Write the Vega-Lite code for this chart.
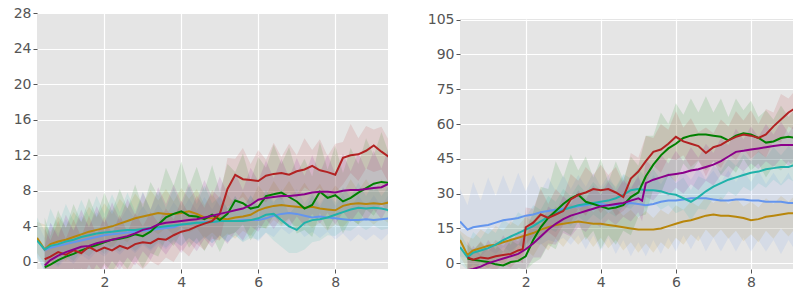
{
"$schema": "https://vega.github.io/schema/vega-lite/v6.json",
"padding": {"left": 13, "top": 6, "right": 0, "bottom": 0},
"background": "white",
"config": {
 "view": {"fill": "#E5E5E5", "stroke": null},
 "concat": {"spacing": 39}
},
"datasets": {
"L": [
{"s":"b","x":0.25,"y":2.6,"lo":0.8,"hi":4.5},{"s":"b","x":0.45,"y":1.3,"lo":-1.1,"hi":2.7},{"s":"b","x":0.6,"y":1.6,"lo":0.0,"hi":4.4},{"s":"b","x":0.8,"y":1.8,"lo":-0.6,"hi":3.2},{"s":"b","x":1.0,"y":2.0,"lo":0.4,"hi":4.8},{"s":"b","x":1.2,"y":2.2,"lo":-0.2,"hi":3.6},{"s":"b","x":1.4,"y":2.4,"lo":0.8,"hi":5.2},{"s":"b","x":1.6,"y":2.6,"lo":0.2,"hi":4.0},{"s":"b","x":1.8,"y":2.8,"lo":1.2,"hi":5.6},{"s":"b","x":2.0,"y":3.0,"lo":0.6,"hi":4.4},{"s":"b","x":2.2,"y":3.1,"lo":1.5,"hi":5.9},{"s":"b","x":2.4,"y":3.2,"lo":0.8,"hi":4.6},{"s":"b","x":2.6,"y":3.3,"lo":1.7,"hi":6.1},{"s":"b","x":2.8,"y":3.4,"lo":1.0,"hi":4.8},{"s":"b","x":3.0,"y":3.5,"lo":1.9,"hi":6.3},{"s":"b","x":3.2,"y":3.6,"lo":1.2,"hi":5.0},{"s":"b","x":3.4,"y":3.7,"lo":2.1,"hi":6.5},{"s":"b","x":3.6,"y":3.8,"lo":1.4,"hi":5.2},{"s":"b","x":3.8,"y":3.9,"lo":2.3,"hi":6.7},{"s":"b","x":4.0,"y":4.2,"lo":1.8,"hi":5.6},{"s":"b","x":4.2,"y":4.3,"lo":2.7,"hi":7.1},{"s":"b","x":4.4,"y":4.4,"lo":2.0,"hi":5.8},{"s":"b","x":4.6,"y":4.5,"lo":2.9,"hi":7.3},{"s":"b","x":4.8,"y":4.5,"lo":2.1,"hi":5.9},{"s":"b","x":5.0,"y":4.6,"lo":3.0,"hi":7.4},{"s":"b","x":5.2,"y":4.6,"lo":2.2,"hi":6.0},{"s":"b","x":5.4,"y":4.6,"lo":3.0,"hi":7.4},{"s":"b","x":5.6,"y":4.7,"lo":2.3,"hi":6.1},{"s":"b","x":5.8,"y":4.7,"lo":3.1,"hi":7.5},{"s":"b","x":6.0,"y":4.7,"lo":2.3,"hi":6.1},{"s":"b","x":6.2,"y":4.9,"lo":3.3,"hi":7.7},{"s":"b","x":6.4,"y":5.2,"lo":2.8,"hi":6.6},{"s":"b","x":6.6,"y":5.4,"lo":3.8,"hi":8.2},{"s":"b","x":6.8,"y":5.5,"lo":3.1,"hi":6.9},{"s":"b","x":7.0,"y":5.4,"lo":3.8,"hi":8.2},{"s":"b","x":7.2,"y":5.2,"lo":2.8,"hi":6.6},{"s":"b","x":7.4,"y":5.0,"lo":3.4,"hi":7.8},{"s":"b","x":7.6,"y":5.1,"lo":2.7,"hi":6.5},{"s":"b","x":7.8,"y":5.0,"lo":3.4,"hi":7.8},{"s":"b","x":8.0,"y":4.9,"lo":2.5,"hi":6.3},{"s":"b","x":8.2,"y":4.8,"lo":3.2,"hi":7.6},{"s":"b","x":8.4,"y":4.7,"lo":2.3,"hi":6.1},{"s":"b","x":8.6,"y":4.7,"lo":3.1,"hi":7.5},{"s":"b","x":8.8,"y":4.8,"lo":2.4,"hi":6.2},{"s":"b","x":9.0,"y":4.7,"lo":3.1,"hi":7.5},{"s":"b","x":9.2,"y":4.8,"lo":2.4,"hi":6.2},{"s":"b","x":9.4,"y":4.9,"lo":3.3,"hi":7.7},
{"s":"o","x":0.25,"y":2.7,"lo":1.0,"hi":4.5},{"s":"o","x":0.45,"y":1.4,"lo":-0.2,"hi":4.2},{"s":"o","x":0.6,"y":2.0,"lo":-0.4,"hi":3.4},{"s":"o","x":0.8,"y":2.3,"lo":0.7,"hi":5.1},{"s":"o","x":1.0,"y":2.5,"lo":0.1,"hi":3.9},{"s":"o","x":1.2,"y":2.8,"lo":1.2,"hi":5.6},{"s":"o","x":1.4,"y":3.1,"lo":0.7,"hi":4.5},{"s":"o","x":1.6,"y":3.4,"lo":1.8,"hi":6.2},{"s":"o","x":1.8,"y":3.6,"lo":1.2,"hi":5.0},{"s":"o","x":2.0,"y":3.8,"lo":2.2,"hi":6.6},{"s":"o","x":2.2,"y":4.0,"lo":1.6,"hi":5.4},{"s":"o","x":2.4,"y":4.3,"lo":2.7,"hi":7.1},{"s":"o","x":2.6,"y":4.6,"lo":2.2,"hi":6.0},{"s":"o","x":2.8,"y":4.9,"lo":3.3,"hi":7.7},{"s":"o","x":3.0,"y":5.1,"lo":2.7,"hi":6.5},{"s":"o","x":3.2,"y":5.3,"lo":3.7,"hi":8.1},{"s":"o","x":3.4,"y":5.5,"lo":3.1,"hi":6.9},{"s":"o","x":3.6,"y":5.4,"lo":3.8,"hi":8.2},{"s":"o","x":3.8,"y":5.4,"lo":3.0,"hi":6.8},{"s":"o","x":4.0,"y":5.5,"lo":3.9,"hi":8.3},{"s":"o","x":4.2,"y":5.7,"lo":3.3,"hi":7.1},{"s":"o","x":4.4,"y":5.4,"lo":3.8,"hi":8.2},{"s":"o","x":4.6,"y":5.0,"lo":2.6,"hi":6.4},{"s":"o","x":4.8,"y":4.9,"lo":3.3,"hi":7.7},{"s":"o","x":5.0,"y":4.9,"lo":2.5,"hi":6.3},{"s":"o","x":5.2,"y":4.8,"lo":3.2,"hi":7.6},{"s":"o","x":5.4,"y":5.0,"lo":2.6,"hi":6.4},{"s":"o","x":5.6,"y":5.1,"lo":3.5,"hi":7.9},{"s":"o","x":5.8,"y":5.3,"lo":2.9,"hi":6.7},{"s":"o","x":6.0,"y":5.8,"lo":4.2,"hi":8.6},{"s":"o","x":6.2,"y":6.1,"lo":3.7,"hi":7.5},{"s":"o","x":6.4,"y":6.3,"lo":4.7,"hi":9.1},{"s":"o","x":6.6,"y":6.4,"lo":4.0,"hi":7.8},{"s":"o","x":6.8,"y":6.3,"lo":4.7,"hi":9.1},{"s":"o","x":7.0,"y":6.2,"lo":3.8,"hi":7.6},{"s":"o","x":7.2,"y":6.1,"lo":4.5,"hi":8.9},{"s":"o","x":7.4,"y":6.2,"lo":3.8,"hi":7.6},{"s":"o","x":7.6,"y":6.0,"lo":4.4,"hi":8.8},{"s":"o","x":7.8,"y":5.9,"lo":3.5,"hi":7.3},{"s":"o","x":8.0,"y":5.8,"lo":4.2,"hi":8.6},{"s":"o","x":8.2,"y":6.3,"lo":3.9,"hi":7.7},{"s":"o","x":8.4,"y":6.5,"lo":4.9,"hi":9.3},{"s":"o","x":8.6,"y":6.6,"lo":4.2,"hi":8.0},{"s":"o","x":8.8,"y":6.5,"lo":4.9,"hi":9.3},{"s":"o","x":9.0,"y":6.6,"lo":4.2,"hi":8.0},{"s":"o","x":9.2,"y":6.5,"lo":4.9,"hi":9.3},{"s":"o","x":9.4,"y":6.7,"lo":4.3,"hi":8.1},
{"s":"c","x":0.25,"y":2.4,"lo":0.5,"hi":5.0},{"s":"c","x":0.45,"y":1.4,"lo":-1.0,"hi":3.5},{"s":"c","x":0.6,"y":1.8,"lo":0.2,"hi":6.0},{"s":"c","x":0.8,"y":2.0,"lo":-0.4,"hi":4.1},{"s":"c","x":1.0,"y":2.3,"lo":0.7,"hi":6.5},{"s":"c","x":1.2,"y":2.5,"lo":0.1,"hi":4.6},{"s":"c","x":1.4,"y":2.8,"lo":1.2,"hi":7.0},{"s":"c","x":1.6,"y":3.0,"lo":0.6,"hi":5.1},{"s":"c","x":1.8,"y":3.2,"lo":1.6,"hi":7.4},{"s":"c","x":2.0,"y":3.3,"lo":0.9,"hi":5.4},{"s":"c","x":2.2,"y":3.4,"lo":1.8,"hi":7.6},{"s":"c","x":2.4,"y":3.5,"lo":1.1,"hi":5.6},{"s":"c","x":2.6,"y":3.6,"lo":2.0,"hi":7.8},{"s":"c","x":2.8,"y":3.6,"lo":1.2,"hi":5.7},{"s":"c","x":3.0,"y":3.7,"lo":2.1,"hi":7.9},{"s":"c","x":3.2,"y":3.8,"lo":1.4,"hi":5.9},{"s":"c","x":3.4,"y":3.9,"lo":2.3,"hi":8.1},{"s":"c","x":3.6,"y":4.0,"lo":1.6,"hi":6.1},{"s":"c","x":3.8,"y":4.1,"lo":2.5,"hi":8.3},{"s":"c","x":4.0,"y":4.2,"lo":1.8,"hi":6.3},{"s":"c","x":4.2,"y":4.3,"lo":2.7,"hi":8.5},{"s":"c","x":4.4,"y":4.4,"lo":2.0,"hi":6.5},{"s":"c","x":4.6,"y":4.4,"lo":2.8,"hi":8.6},{"s":"c","x":4.8,"y":4.5,"lo":2.1,"hi":6.6},{"s":"c","x":5.0,"y":4.6,"lo":3.0,"hi":7.4},{"s":"c","x":5.2,"y":4.6,"lo":2.2,"hi":6.0},{"s":"c","x":5.4,"y":4.6,"lo":3.0,"hi":7.4},{"s":"c","x":5.6,"y":4.6,"lo":2.2,"hi":6.0},{"s":"c","x":5.8,"y":4.7,"lo":2.7,"hi":7.5},{"s":"c","x":6.0,"y":4.9,"lo":2.5,"hi":6.3},{"s":"c","x":6.2,"y":5.3,"lo":3.3,"hi":8.1},{"s":"c","x":6.4,"y":5.4,"lo":2.4,"hi":6.8},{"s":"c","x":6.6,"y":4.7,"lo":1.7,"hi":7.5},{"s":"c","x":6.8,"y":4.0,"lo":1.0,"hi":5.4},{"s":"c","x":7.0,"y":3.6,"lo":1.0,"hi":6.4},{"s":"c","x":7.2,"y":4.4,"lo":1.4,"hi":5.8},{"s":"c","x":7.4,"y":4.7,"lo":2.2,"hi":7.5},{"s":"c","x":7.6,"y":4.8,"lo":2.4,"hi":6.2},{"s":"c","x":7.8,"y":5.0,"lo":3.0,"hi":7.8},{"s":"c","x":8.0,"y":5.3,"lo":2.9,"hi":6.7},{"s":"c","x":8.2,"y":5.6,"lo":3.6,"hi":8.4},{"s":"c","x":8.4,"y":5.9,"lo":3.5,"hi":7.3},{"s":"c","x":8.6,"y":6.1,"lo":4.1,"hi":8.9},{"s":"c","x":8.8,"y":6.0,"lo":3.6,"hi":7.4},{"s":"c","x":9.0,"y":6.1,"lo":4.1,"hi":8.9},{"s":"c","x":9.2,"y":6.0,"lo":3.6,"hi":7.4},{"s":"c","x":9.4,"y":5.8,"lo":3.8,"hi":8.6},
{"s":"g","x":0.45,"y":-0.6,"lo":-3.0,"hi":5.0},{"s":"g","x":0.6,"y":-0.3,"lo":-3.9,"hi":2.9},{"s":"g","x":0.8,"y":0.2,"lo":-2.2,"hi":5.8},{"s":"g","x":1.0,"y":0.6,"lo":-3.0,"hi":3.8},{"s":"g","x":1.2,"y":0.9,"lo":-1.5,"hi":6.5},{"s":"g","x":1.4,"y":1.3,"lo":-2.3,"hi":4.5},{"s":"g","x":1.6,"y":1.6,"lo":-0.8,"hi":7.2},{"s":"g","x":1.8,"y":1.9,"lo":-1.7,"hi":5.1},{"s":"g","x":2.0,"y":2.2,"lo":-0.2,"hi":7.8},{"s":"g","x":2.2,"y":2.5,"lo":-1.1,"hi":5.7},{"s":"g","x":2.4,"y":2.6,"lo":0.2,"hi":8.2},{"s":"g","x":2.6,"y":2.8,"lo":-0.8,"hi":6.0},{"s":"g","x":2.8,"y":3.1,"lo":0.7,"hi":8.7},{"s":"g","x":3.0,"y":2.9,"lo":-0.7,"hi":6.1},{"s":"g","x":3.2,"y":3.4,"lo":1.0,"hi":9.0},{"s":"g","x":3.4,"y":4.2,"lo":0.6,"hi":7.4},{"s":"g","x":3.6,"y":5.0,"lo":2.6,"hi":10.6},{"s":"g","x":3.8,"y":5.4,"lo":1.8,"hi":8.6},{"s":"g","x":4.0,"y":5.7,"lo":3.3,"hi":11.3},{"s":"g","x":4.2,"y":5.2,"lo":1.6,"hi":8.4},{"s":"g","x":4.4,"y":5.1,"lo":2.7,"hi":10.7},{"s":"g","x":4.6,"y":4.8,"lo":1.2,"hi":8.0},{"s":"g","x":4.8,"y":5.3,"lo":2.9,"hi":10.9},{"s":"g","x":5.0,"y":4.7,"lo":1.1,"hi":7.9},{"s":"g","x":5.2,"y":5.4,"lo":3.0,"hi":11.0},{"s":"g","x":5.4,"y":6.9,"lo":3.3,"hi":10.1},{"s":"g","x":5.6,"y":6.6,"lo":4.2,"hi":12.2},{"s":"g","x":5.8,"y":6.0,"lo":2.4,"hi":9.2},{"s":"g","x":6.0,"y":6.2,"lo":3.8,"hi":11.8},{"s":"g","x":6.2,"y":7.4,"lo":3.8,"hi":10.6},{"s":"g","x":6.4,"y":7.6,"lo":5.2,"hi":13.2},{"s":"g","x":6.6,"y":7.8,"lo":4.2,"hi":11.0},{"s":"g","x":6.8,"y":7.3,"lo":4.9,"hi":12.9},{"s":"g","x":7.0,"y":6.8,"lo":3.2,"hi":10.0},{"s":"g","x":7.2,"y":6.0,"lo":3.6,"hi":11.6},{"s":"g","x":7.4,"y":6.4,"lo":2.8,"hi":9.6},{"s":"g","x":7.6,"y":7.9,"lo":5.5,"hi":13.5},{"s":"g","x":7.8,"y":7.2,"lo":3.6,"hi":10.4},{"s":"g","x":8.0,"y":7.5,"lo":5.1,"hi":13.1},{"s":"g","x":8.2,"y":6.8,"lo":3.2,"hi":10.0},{"s":"g","x":8.4,"y":7.2,"lo":4.8,"hi":12.8},{"s":"g","x":8.6,"y":7.8,"lo":4.2,"hi":11.0},{"s":"g","x":8.8,"y":8.3,"lo":5.9,"hi":13.9},{"s":"g","x":9.0,"y":8.8,"lo":5.2,"hi":12.0},{"s":"g","x":9.2,"y":9.0,"lo":6.6,"hi":14.6},{"s":"g","x":9.4,"y":8.9,"lo":5.3,"hi":12.1},
{"s":"r","x":0.45,"y":0.3,"lo":-1.7,"hi":3.8},{"s":"r","x":0.6,"y":0.6,"lo":-2.4,"hi":2.4},{"s":"r","x":0.8,"y":1.1,"lo":-0.9,"hi":4.6},{"s":"r","x":1.0,"y":0.8,"lo":-2.2,"hi":2.6},{"s":"r","x":1.2,"y":1.3,"lo":-0.7,"hi":4.8},{"s":"r","x":1.4,"y":1.0,"lo":-2.0,"hi":2.8},{"s":"r","x":1.6,"y":1.7,"lo":-0.3,"hi":5.2},{"s":"r","x":1.8,"y":1.2,"lo":-1.8,"hi":3.0},{"s":"r","x":2.0,"y":1.6,"lo":-0.4,"hi":5.1},{"s":"r","x":2.2,"y":1.3,"lo":-1.7,"hi":3.1},{"s":"r","x":2.4,"y":1.8,"lo":-0.2,"hi":5.3},{"s":"r","x":2.6,"y":1.5,"lo":-1.5,"hi":3.3},{"s":"r","x":2.8,"y":2.0,"lo":0.0,"hi":5.5},{"s":"r","x":3.0,"y":2.2,"lo":-0.8,"hi":4.0},{"s":"r","x":3.2,"y":2.1,"lo":0.1,"hi":5.6},{"s":"r","x":3.4,"y":2.6,"lo":-0.4,"hi":4.4},{"s":"r","x":3.6,"y":2.5,"lo":0.5,"hi":6.0},{"s":"r","x":3.8,"y":3.0,"lo":0.0,"hi":4.8},{"s":"r","x":4.0,"y":3.4,"lo":1.4,"hi":6.9},{"s":"r","x":4.2,"y":3.6,"lo":0.6,"hi":5.4},{"s":"r","x":4.4,"y":4.0,"lo":2.0,"hi":7.5},{"s":"r","x":4.6,"y":4.3,"lo":1.3,"hi":6.1},{"s":"r","x":4.8,"y":4.6,"lo":2.6,"hi":8.1},{"s":"r","x":5.0,"y":5.4,"lo":2.4,"hi":7.2},{"s":"r","x":5.2,"y":8.2,"lo":6.2,"hi":11.7},{"s":"r","x":5.4,"y":9.8,"lo":6.8,"hi":11.6},{"s":"r","x":5.6,"y":9.3,"lo":7.3,"hi":12.8},{"s":"r","x":5.8,"y":9.2,"lo":6.2,"hi":11.0},{"s":"r","x":6.0,"y":9.1,"lo":7.1,"hi":12.6},{"s":"r","x":6.2,"y":9.7,"lo":6.7,"hi":11.5},{"s":"r","x":6.4,"y":9.9,"lo":7.9,"hi":13.4},{"s":"r","x":6.6,"y":10.0,"lo":7.0,"hi":11.8},{"s":"r","x":6.8,"y":9.8,"lo":7.8,"hi":13.3},{"s":"r","x":7.0,"y":10.2,"lo":7.2,"hi":12.0},{"s":"r","x":7.2,"y":10.4,"lo":8.4,"hi":13.9},{"s":"r","x":7.4,"y":10.8,"lo":7.8,"hi":12.6},{"s":"r","x":7.6,"y":10.3,"lo":8.3,"hi":13.8},{"s":"r","x":7.8,"y":10.1,"lo":7.1,"hi":11.9},{"s":"r","x":8.0,"y":9.8,"lo":7.8,"hi":13.3},{"s":"r","x":8.2,"y":11.7,"lo":8.7,"hi":13.5},{"s":"r","x":8.4,"y":12.0,"lo":10.0,"hi":15.5},{"s":"r","x":8.6,"y":12.1,"lo":9.1,"hi":13.9},{"s":"r","x":8.8,"y":12.5,"lo":10.5,"hi":15.3},{"s":"r","x":9.0,"y":13.1,"lo":10.1,"hi":14.9},{"s":"r","x":9.2,"y":12.4,"lo":10.4,"hi":15.2},{"s":"r","x":9.4,"y":11.8,"lo":8.8,"hi":13.6},
{"s":"p","x":0.45,"y":-0.4,"lo":-4.0,"hi":1.7},{"s":"p","x":0.6,"y":0.2,"lo":-2.2,"hi":4.4},{"s":"p","x":0.8,"y":0.7,"lo":-2.9,"hi":2.8},{"s":"p","x":1.0,"y":1.1,"lo":-1.3,"hi":5.3},{"s":"p","x":1.2,"y":1.4,"lo":-2.2,"hi":3.5},{"s":"p","x":1.4,"y":1.7,"lo":-0.7,"hi":5.9},{"s":"p","x":1.6,"y":1.8,"lo":-1.8,"hi":3.9},{"s":"p","x":1.8,"y":2.1,"lo":-0.3,"hi":6.3},{"s":"p","x":2.0,"y":2.3,"lo":-1.3,"hi":4.4},{"s":"p","x":2.2,"y":2.5,"lo":0.1,"hi":6.7},{"s":"p","x":2.4,"y":2.7,"lo":-0.9,"hi":4.8},{"s":"p","x":2.6,"y":2.9,"lo":0.5,"hi":7.1},{"s":"p","x":2.8,"y":3.2,"lo":-0.4,"hi":5.3},{"s":"p","x":3.0,"y":3.6,"lo":1.2,"hi":7.8},{"s":"p","x":3.2,"y":3.8,"lo":0.2,"hi":5.9},{"s":"p","x":3.4,"y":4.2,"lo":1.8,"hi":8.4},{"s":"p","x":3.6,"y":4.4,"lo":0.8,"hi":6.5},{"s":"p","x":3.8,"y":4.5,"lo":2.1,"hi":8.7},{"s":"p","x":4.0,"y":4.6,"lo":1.0,"hi":6.7},{"s":"p","x":4.2,"y":4.7,"lo":2.3,"hi":8.9},{"s":"p","x":4.4,"y":4.8,"lo":1.2,"hi":6.9},{"s":"p","x":4.6,"y":5.0,"lo":2.6,"hi":9.2},{"s":"p","x":4.8,"y":5.2,"lo":1.6,"hi":7.3},{"s":"p","x":5.0,"y":5.4,"lo":3.0,"hi":9.6},{"s":"p","x":5.2,"y":5.6,"lo":2.0,"hi":7.7},{"s":"p","x":5.4,"y":5.8,"lo":3.4,"hi":10.0},{"s":"p","x":5.6,"y":6.0,"lo":2.4,"hi":8.1},{"s":"p","x":5.8,"y":6.4,"lo":4.0,"hi":10.6},{"s":"p","x":6.0,"y":7.0,"lo":3.4,"hi":9.1},{"s":"p","x":6.2,"y":7.2,"lo":4.8,"hi":11.4},{"s":"p","x":6.4,"y":7.3,"lo":3.7,"hi":9.4},{"s":"p","x":6.6,"y":7.4,"lo":5.0,"hi":11.6},{"s":"p","x":6.8,"y":7.4,"lo":3.8,"hi":9.5},{"s":"p","x":7.0,"y":7.5,"lo":5.1,"hi":11.7},{"s":"p","x":7.2,"y":7.6,"lo":4.0,"hi":9.7},{"s":"p","x":7.4,"y":7.8,"lo":5.4,"hi":12.0},{"s":"p","x":7.6,"y":7.9,"lo":4.3,"hi":10.0},{"s":"p","x":7.8,"y":7.9,"lo":5.5,"hi":12.1},{"s":"p","x":8.0,"y":7.8,"lo":4.2,"hi":9.9},{"s":"p","x":8.2,"y":8.0,"lo":5.6,"hi":12.2},{"s":"p","x":8.4,"y":8.1,"lo":4.5,"hi":10.2},{"s":"p","x":8.6,"y":8.1,"lo":5.7,"hi":12.3},{"s":"p","x":8.8,"y":8.2,"lo":4.6,"hi":10.3},{"s":"p","x":9.0,"y":8.3,"lo":5.9,"hi":12.5},{"s":"p","x":9.2,"y":8.4,"lo":4.8,"hi":10.5},{"s":"p","x":9.4,"y":8.8,"lo":6.4,"hi":13.0}
],
"R": [
{"s":"b","x":0.25,"y":18,"lo":3,"hi":32},{"s":"b","x":0.45,"y":14.5,"lo":2,"hi":25},{"s":"b","x":0.6,"y":15.5,"lo":5,"hi":35},{"s":"b","x":0.8,"y":16,"lo":3,"hi":27},{"s":"b","x":1.0,"y":16.5,"lo":6,"hi":37},{"s":"b","x":1.2,"y":17.5,"lo":4,"hi":29},{"s":"b","x":1.4,"y":18.5,"lo":7,"hi":38},{"s":"b","x":1.6,"y":19,"lo":5,"hi":30},{"s":"b","x":1.8,"y":19.5,"lo":8,"hi":39},{"s":"b","x":2.0,"y":20.5,"lo":6,"hi":31},{"s":"b","x":2.2,"y":21,"lo":9,"hi":38},{"s":"b","x":2.4,"y":22,"lo":8,"hi":31},{"s":"b","x":2.6,"y":22.5,"lo":10,"hi":37},{"s":"b","x":2.8,"y":23,"lo":9,"hi":31},{"s":"b","x":3.0,"y":23.5,"lo":11,"hi":38},{"s":"b","x":3.2,"y":24,"lo":8,"hi":32},{"s":"b","x":3.4,"y":24.5,"lo":12,"hi":38},{"s":"b","x":3.6,"y":25,"lo":6,"hi":33},{"s":"b","x":3.8,"y":25.5,"lo":12,"hi":39},{"s":"b","x":4.0,"y":25.5,"lo":5,"hi":33},{"s":"b","x":4.2,"y":25,"lo":11,"hi":38},{"s":"b","x":4.4,"y":25,"lo":4,"hi":32},{"s":"b","x":4.6,"y":25.5,"lo":10,"hi":38},{"s":"b","x":4.8,"y":26,"lo":3,"hi":33},{"s":"b","x":5.0,"y":25.5,"lo":9,"hi":37},{"s":"b","x":5.2,"y":25,"lo":3,"hi":32},{"s":"b","x":5.4,"y":25.5,"lo":10,"hi":38},{"s":"b","x":5.6,"y":26.5,"lo":4,"hi":34},{"s":"b","x":5.8,"y":27,"lo":11,"hi":39},{"s":"b","x":6.0,"y":27,"lo":5,"hi":35},{"s":"b","x":6.2,"y":27.5,"lo":12,"hi":40},{"s":"b","x":6.4,"y":28,"lo":6,"hi":36},{"s":"b","x":6.6,"y":28,"lo":12,"hi":41},{"s":"b","x":6.8,"y":28,"lo":5,"hi":36},{"s":"b","x":7.0,"y":27.5,"lo":11,"hi":40},{"s":"b","x":7.2,"y":27,"lo":5,"hi":35},{"s":"b","x":7.4,"y":27,"lo":11,"hi":40},{"s":"b","x":7.6,"y":27.5,"lo":5,"hi":35},{"s":"b","x":7.8,"y":27.5,"lo":11,"hi":40},{"s":"b","x":8.0,"y":27,"lo":5,"hi":35},{"s":"b","x":8.2,"y":27,"lo":10,"hi":40},{"s":"b","x":8.4,"y":26.5,"lo":5,"hi":34},{"s":"b","x":8.6,"y":26.5,"lo":10,"hi":39},{"s":"b","x":8.8,"y":26.5,"lo":4,"hi":34},{"s":"b","x":9.0,"y":26,"lo":10,"hi":39},{"s":"b","x":9.2,"y":26,"lo":5,"hi":33},{"s":"b","x":9.4,"y":26,"lo":9,"hi":38},
{"s":"o","x":0.25,"y":10,"lo":3,"hi":14},{"s":"o","x":0.45,"y":3.5,"lo":-2.5,"hi":11.5},{"s":"o","x":0.6,"y":5.5,"lo":-4.5,"hi":10.5},{"s":"o","x":0.8,"y":6.5,"lo":0.5,"hi":14.5},{"s":"o","x":1.0,"y":7.5,"lo":-2.5,"hi":12.5},{"s":"o","x":1.2,"y":8,"lo":2,"hi":16},{"s":"o","x":1.4,"y":9,"lo":-1,"hi":14},{"s":"o","x":1.6,"y":10,"lo":4,"hi":18},{"s":"o","x":1.8,"y":11,"lo":1,"hi":16},{"s":"o","x":2.0,"y":12,"lo":6,"hi":20},{"s":"o","x":2.2,"y":13,"lo":3,"hi":18},{"s":"o","x":2.4,"y":14.5,"lo":8.5,"hi":22.5},{"s":"o","x":2.6,"y":15.5,"lo":5.5,"hi":20.5},{"s":"o","x":2.8,"y":16.5,"lo":10.5,"hi":24.5},{"s":"o","x":3.0,"y":17,"lo":7,"hi":22},{"s":"o","x":3.2,"y":17.5,"lo":11.5,"hi":25.5},{"s":"o","x":3.4,"y":18,"lo":8,"hi":23},{"s":"o","x":3.6,"y":17.5,"lo":11.5,"hi":25.5},{"s":"o","x":3.8,"y":17,"lo":7,"hi":22},{"s":"o","x":4.0,"y":17,"lo":11,"hi":25},{"s":"o","x":4.2,"y":16.5,"lo":6.5,"hi":21.5},{"s":"o","x":4.4,"y":16,"lo":10,"hi":24},{"s":"o","x":4.6,"y":15.5,"lo":5.5,"hi":20.5},{"s":"o","x":4.8,"y":15,"lo":9,"hi":23},{"s":"o","x":5.0,"y":14.5,"lo":4.5,"hi":19.5},{"s":"o","x":5.2,"y":14.5,"lo":8.5,"hi":22.5},{"s":"o","x":5.4,"y":14.5,"lo":4.5,"hi":19.5},{"s":"o","x":5.6,"y":15,"lo":9,"hi":23},{"s":"o","x":5.8,"y":16,"lo":6,"hi":21},{"s":"o","x":6.0,"y":17,"lo":11,"hi":25},{"s":"o","x":6.2,"y":18,"lo":8,"hi":23},{"s":"o","x":6.4,"y":18.5,"lo":12.5,"hi":26.5},{"s":"o","x":6.6,"y":19.5,"lo":9.5,"hi":24.5},{"s":"o","x":6.8,"y":20.5,"lo":14.5,"hi":28.5},{"s":"o","x":7.0,"y":21,"lo":11,"hi":26},{"s":"o","x":7.2,"y":20.5,"lo":14.5,"hi":28.5},{"s":"o","x":7.4,"y":20.5,"lo":10.5,"hi":25.5},{"s":"o","x":7.6,"y":20,"lo":14,"hi":28},{"s":"o","x":7.8,"y":19.5,"lo":9.5,"hi":24.5},{"s":"o","x":8.0,"y":18.5,"lo":12.5,"hi":26.5},{"s":"o","x":8.2,"y":19,"lo":9,"hi":24},{"s":"o","x":8.4,"y":20,"lo":14,"hi":28},{"s":"o","x":8.6,"y":20.5,"lo":10.5,"hi":25.5},{"s":"o","x":8.8,"y":21,"lo":15,"hi":29},{"s":"o","x":9.0,"y":21.5,"lo":11.5,"hi":26.5},{"s":"o","x":9.2,"y":21.5,"lo":15.5,"hi":29.5},{"s":"o","x":9.4,"y":21.5,"lo":11.5,"hi":26.5},
{"s":"c","x":0.25,"y":7,"lo":0,"hi":13},{"s":"c","x":0.45,"y":2.5,"lo":-3,"hi":7.5},{"s":"c","x":0.6,"y":4.5,"lo":-0.5,"hi":13.5},{"s":"c","x":0.8,"y":5.5,"lo":-2.5,"hi":10.5},{"s":"c","x":1.0,"y":6.5,"lo":1.5,"hi":15.5},{"s":"c","x":1.2,"y":8,"lo":0,"hi":13},{"s":"c","x":1.4,"y":10,"lo":5,"hi":19},{"s":"c","x":1.6,"y":11.5,"lo":3.5,"hi":16.5},{"s":"c","x":1.8,"y":13,"lo":8,"hi":22},{"s":"c","x":2.0,"y":14.5,"lo":6.5,"hi":19.5},{"s":"c","x":2.2,"y":16,"lo":11,"hi":25},{"s":"c","x":2.4,"y":18,"lo":10,"hi":23},{"s":"c","x":2.6,"y":20,"lo":15,"hi":29},{"s":"c","x":2.8,"y":21.5,"lo":13.5,"hi":26.5},{"s":"c","x":3.0,"y":23,"lo":18,"hi":32},{"s":"c","x":3.2,"y":24,"lo":16,"hi":29},{"s":"c","x":3.4,"y":25,"lo":20,"hi":34},{"s":"c","x":3.6,"y":25.5,"lo":17.5,"hi":30.5},{"s":"c","x":3.8,"y":26,"lo":21,"hi":35},{"s":"c","x":4.0,"y":26.5,"lo":18.5,"hi":31.5},{"s":"c","x":4.2,"y":27,"lo":22,"hi":36},{"s":"c","x":4.4,"y":28,"lo":20,"hi":33},{"s":"c","x":4.6,"y":29.5,"lo":24.5,"hi":38.5},{"s":"c","x":4.8,"y":31.5,"lo":23.5,"hi":36.5},{"s":"c","x":5.0,"y":32,"lo":27,"hi":41},{"s":"c","x":5.2,"y":31.5,"lo":23.5,"hi":36.5},{"s":"c","x":5.4,"y":31.5,"lo":26.5,"hi":40.5},{"s":"c","x":5.6,"y":31,"lo":23,"hi":36},{"s":"c","x":5.8,"y":30,"lo":25,"hi":39},{"s":"c","x":6.0,"y":29.5,"lo":21.5,"hi":34.5},{"s":"c","x":6.2,"y":28,"lo":23,"hi":37},{"s":"c","x":6.4,"y":26.5,"lo":18.5,"hi":31.5},{"s":"c","x":6.6,"y":28.5,"lo":23.5,"hi":37.5},{"s":"c","x":6.8,"y":31,"lo":23,"hi":36},{"s":"c","x":7.0,"y":33,"lo":28,"hi":42},{"s":"c","x":7.2,"y":34.5,"lo":26.5,"hi":39.5},{"s":"c","x":7.4,"y":36,"lo":31,"hi":45},{"s":"c","x":7.6,"y":37,"lo":29,"hi":42},{"s":"c","x":7.8,"y":38,"lo":33,"hi":47},{"s":"c","x":8.0,"y":39,"lo":31,"hi":44},{"s":"c","x":8.2,"y":39.5,"lo":34.5,"hi":48.5},{"s":"c","x":8.4,"y":40.5,"lo":32.5,"hi":45.5},{"s":"c","x":8.6,"y":41,"lo":36,"hi":50},{"s":"c","x":8.8,"y":41.5,"lo":33.5,"hi":46.5},{"s":"c","x":9.0,"y":41.5,"lo":36.5,"hi":50.5},{"s":"c","x":9.2,"y":42.5,"lo":34.5,"hi":47.5},{"s":"c","x":9.4,"y":43,"lo":38,"hi":52},
{"s":"g","x":0.45,"y":2,"lo":-4,"hi":8},{"s":"g","x":0.6,"y":1.5,"lo":-3,"hi":5.5},{"s":"g","x":0.8,"y":1,"lo":-4,"hi":9},{"s":"g","x":1.0,"y":0.5,"lo":-3,"hi":5.5},{"s":"g","x":1.2,"y":-0.5,"lo":-5,"hi":8},{"s":"g","x":1.4,"y":-1,"lo":-5,"hi":5},{"s":"g","x":1.6,"y":0.5,"lo":-4,"hi":10},{"s":"g","x":1.8,"y":1,"lo":-3,"hi":8},{"s":"g","x":2.0,"y":3,"lo":-3,"hi":14},{"s":"g","x":2.2,"y":10,"lo":0,"hi":22},{"s":"g","x":2.4,"y":15.5,"lo":2,"hi":33},{"s":"g","x":2.6,"y":19.5,"lo":8,"hi":32},{"s":"g","x":2.8,"y":22.5,"lo":6,"hi":44},{"s":"g","x":3.0,"y":25.5,"lo":14,"hi":37},{"s":"g","x":3.2,"y":28,"lo":12,"hi":47},{"s":"g","x":3.4,"y":29.5,"lo":18,"hi":40},{"s":"g","x":3.6,"y":26.5,"lo":10,"hi":46},{"s":"g","x":3.8,"y":25.5,"lo":14,"hi":37},{"s":"g","x":4.0,"y":24.5,"lo":6,"hi":45},{"s":"g","x":4.2,"y":23.5,"lo":12,"hi":35},{"s":"g","x":4.4,"y":24,"lo":8,"hi":44},{"s":"g","x":4.6,"y":25,"lo":14,"hi":36},{"s":"g","x":4.8,"y":28.5,"lo":12,"hi":46},{"s":"g","x":5.0,"y":30.5,"lo":20,"hi":42},{"s":"g","x":5.2,"y":37.5,"lo":21,"hi":55},{"s":"g","x":5.4,"y":42.5,"lo":32,"hi":55},{"s":"g","x":5.6,"y":46.5,"lo":30,"hi":65},{"s":"g","x":5.8,"y":49.5,"lo":38,"hi":60},{"s":"g","x":6.0,"y":51.5,"lo":35,"hi":69},{"s":"g","x":6.2,"y":54,"lo":43,"hi":64},{"s":"g","x":6.4,"y":55,"lo":39,"hi":71},{"s":"g","x":6.6,"y":55.5,"lo":44,"hi":65},{"s":"g","x":6.8,"y":55.5,"lo":40,"hi":72},{"s":"g","x":7.0,"y":55,"lo":44,"hi":65},{"s":"g","x":7.2,"y":54.5,"lo":38,"hi":71},{"s":"g","x":7.4,"y":53,"lo":42,"hi":63},{"s":"g","x":7.6,"y":55,"lo":39,"hi":71},{"s":"g","x":7.8,"y":56,"lo":45,"hi":66},{"s":"g","x":8.0,"y":55.5,"lo":40,"hi":70},{"s":"g","x":8.2,"y":54,"lo":43,"hi":63},{"s":"g","x":8.4,"y":52,"lo":37,"hi":66},{"s":"g","x":8.6,"y":52.5,"lo":42,"hi":62},{"s":"g","x":8.8,"y":54,"lo":40,"hi":68},{"s":"g","x":9.0,"y":54.5,"lo":44,"hi":63},{"s":"g","x":9.2,"y":54,"lo":40,"hi":67},{"s":"g","x":9.4,"y":54,"lo":44,"hi":62},
{"s":"r","x":0.45,"y":2.5,"lo":-3.5,"hi":9.5},{"s":"r","x":0.6,"y":1.5,"lo":-2.5,"hi":5.5},{"s":"r","x":0.8,"y":2.5,"lo":-3.5,"hi":9.5},{"s":"r","x":1.0,"y":2,"lo":-2,"hi":6},{"s":"r","x":1.2,"y":3,"lo":-3,"hi":10},{"s":"r","x":1.4,"y":3.5,"lo":-0.5,"hi":7.5},{"s":"r","x":1.6,"y":4,"lo":-2,"hi":11},{"s":"r","x":1.8,"y":5.5,"lo":1.5,"hi":9.5},{"s":"r","x":1.92,"y":6,"lo":0,"hi":13},{"s":"r","x":2.0,"y":15.5,"lo":8,"hi":24},{"s":"r","x":2.2,"y":17.5,"lo":11.5,"hi":23.5},{"s":"r","x":2.4,"y":21,"lo":11,"hi":32},{"s":"r","x":2.6,"y":19.5,"lo":13.5,"hi":25.5},{"s":"r","x":2.8,"y":21,"lo":11,"hi":32},{"s":"r","x":3.0,"y":22.5,"lo":16.5,"hi":28.5},{"s":"r","x":3.2,"y":27.5,"lo":17.5,"hi":38.5},{"s":"r","x":3.4,"y":29.5,"lo":23.5,"hi":35.5},{"s":"r","x":3.6,"y":30.5,"lo":20.5,"hi":41.5},{"s":"r","x":3.8,"y":32,"lo":26,"hi":38},{"s":"r","x":4.0,"y":31.5,"lo":21.5,"hi":42.5},{"s":"r","x":4.2,"y":32,"lo":26,"hi":38},{"s":"r","x":4.4,"y":30.5,"lo":20.5,"hi":41.5},{"s":"r","x":4.6,"y":28.5,"lo":22.5,"hi":34.5},{"s":"r","x":4.8,"y":36.5,"lo":26.5,"hi":47.5},{"s":"r","x":5.0,"y":39.5,"lo":33.5,"hi":45.5},{"s":"r","x":5.2,"y":44,"lo":34,"hi":55},{"s":"r","x":5.4,"y":48,"lo":42,"hi":54},{"s":"r","x":5.6,"y":49,"lo":39,"hi":60},{"s":"r","x":5.8,"y":51.5,"lo":45.5,"hi":57.5},{"s":"r","x":6.0,"y":54.5,"lo":44.5,"hi":65.5},{"s":"r","x":6.2,"y":52.5,"lo":46.5,"hi":58.5},{"s":"r","x":6.4,"y":51.5,"lo":41.5,"hi":62.5},{"s":"r","x":6.6,"y":50.5,"lo":44.5,"hi":56.5},{"s":"r","x":6.8,"y":47.5,"lo":37.5,"hi":58.5},{"s":"r","x":7.0,"y":50,"lo":44,"hi":56},{"s":"r","x":7.2,"y":51,"lo":41,"hi":62},{"s":"r","x":7.4,"y":53,"lo":47,"hi":59},{"s":"r","x":7.6,"y":54.5,"lo":44.5,"hi":65.5},{"s":"r","x":7.8,"y":55.5,"lo":49.5,"hi":61.5},{"s":"r","x":8.0,"y":55,"lo":45,"hi":66},{"s":"r","x":8.2,"y":54,"lo":48,"hi":60},{"s":"r","x":8.4,"y":55.5,"lo":45.5,"hi":66.5},{"s":"r","x":8.6,"y":59,"lo":53,"hi":65},{"s":"r","x":8.8,"y":62,"lo":52,"hi":73},{"s":"r","x":9.0,"y":65,"lo":59,"hi":71},{"s":"r","x":9.2,"y":67,"lo":57,"hi":75},{"s":"r","x":9.4,"y":68,"lo":62,"hi":74},
{"s":"p","x":0.45,"y":-3,"lo":-12,"hi":2},{"s":"p","x":0.6,"y":-2.5,"lo":-8.5,"hi":7.5},{"s":"p","x":0.8,"y":-1.5,"lo":-10.5,"hi":3.5},{"s":"p","x":1.0,"y":0,"lo":-6,"hi":10},{"s":"p","x":1.2,"y":1,"lo":-8,"hi":6},{"s":"p","x":1.4,"y":2,"lo":-4,"hi":12},{"s":"p","x":1.6,"y":3,"lo":-6,"hi":8},{"s":"p","x":1.8,"y":4,"lo":-2,"hi":14},{"s":"p","x":2.0,"y":6,"lo":-3,"hi":11},{"s":"p","x":2.2,"y":8.5,"lo":2.5,"hi":18.5},{"s":"p","x":2.4,"y":11.5,"lo":2.5,"hi":16.5},{"s":"p","x":2.6,"y":14.5,"lo":8.5,"hi":24.5},{"s":"p","x":2.8,"y":17,"lo":8,"hi":22},{"s":"p","x":3.0,"y":19,"lo":13,"hi":29},{"s":"p","x":3.2,"y":20.5,"lo":11.5,"hi":25.5},{"s":"p","x":3.4,"y":21.5,"lo":15.5,"hi":31.5},{"s":"p","x":3.6,"y":22.5,"lo":13.5,"hi":27.5},{"s":"p","x":3.8,"y":23.5,"lo":17.5,"hi":33.5},{"s":"p","x":4.0,"y":24.5,"lo":15.5,"hi":29.5},{"s":"p","x":4.2,"y":25,"lo":19,"hi":35},{"s":"p","x":4.4,"y":25.5,"lo":16.5,"hi":30.5},{"s":"p","x":4.6,"y":26,"lo":20,"hi":36},{"s":"p","x":4.8,"y":27,"lo":18,"hi":32},{"s":"p","x":5.0,"y":28,"lo":22,"hi":38},{"s":"p","x":5.1,"y":27,"lo":18,"hi":32},{"s":"p","x":5.2,"y":34.5,"lo":28.5,"hi":44.5},{"s":"p","x":5.4,"y":36,"lo":27,"hi":41},{"s":"p","x":5.6,"y":37,"lo":31,"hi":47},{"s":"p","x":5.8,"y":38,"lo":29,"hi":43},{"s":"p","x":6.0,"y":38.5,"lo":32.5,"hi":48.5},{"s":"p","x":6.2,"y":39,"lo":30,"hi":44},{"s":"p","x":6.4,"y":40,"lo":34,"hi":50},{"s":"p","x":6.6,"y":40.5,"lo":31.5,"hi":45.5},{"s":"p","x":6.8,"y":41.5,"lo":35.5,"hi":51.5},{"s":"p","x":7.0,"y":42.5,"lo":33.5,"hi":47.5},{"s":"p","x":7.2,"y":44,"lo":38,"hi":54},{"s":"p","x":7.4,"y":46,"lo":37,"hi":51},{"s":"p","x":7.6,"y":48,"lo":42,"hi":58},{"s":"p","x":7.8,"y":48.5,"lo":39.5,"hi":53.5},{"s":"p","x":8.0,"y":49,"lo":43,"hi":59},{"s":"p","x":8.2,"y":49.5,"lo":40.5,"hi":54.5},{"s":"p","x":8.4,"y":50,"lo":44,"hi":60},{"s":"p","x":8.6,"y":50.5,"lo":41.5,"hi":55.5},{"s":"p","x":8.8,"y":51,"lo":45,"hi":61},{"s":"p","x":9.0,"y":51,"lo":42,"hi":56},{"s":"p","x":9.2,"y":51,"lo":45,"hi":61},{"s":"p","x":9.4,"y":51,"lo":42,"hi":56}
]
},
"hconcat": [
{
 "width": 351, "height": 256,
 "data": {"name": "L"},
 "encoding": {
  "x": {"field": "x", "type": "quantitative", "title": null, "scale": {"domain": [0.25, 9.37], "nice": false, "zero": false}, "axis": {"values": [2, 4, 6, 8], "grid": true, "gridColor": "white", "gridWidth": 1.2, "domain": false, "tickColor": "#555555", "tickSize": 4, "labelFont": "DejaVu Sans", "labelFontSize": 14, "labelColor": "#555555", "labelPadding": 2, "labelOverlap": false}},
  "color": {"field": "s", "type": "nominal", "legend": null, "scale": {"domain": ["b", "o", "c", "g", "r", "p"], "range": ["#6495ED", "#B8860B", "#20B2AA", "#008000", "#B22222", "#8B008B"]}}
 },
 "layer": [
  {"mark": {"type": "area", "opacity": 0.12, "clip": true},
   "encoding": {
    "y": {"field": "lo", "type": "quantitative", "title": null, "scale": {"domain": [-0.8, 28], "nice": false, "zero": false}, "axis": {"values": [0, 4, 8, 12, 16, 20, 24, 28], "grid": true, "gridColor": "white", "gridWidth": 1.2, "domain": false, "tickColor": "#555555", "tickSize": 4, "labelFont": "DejaVu Sans", "labelFontSize": 14, "labelColor": "#555555", "labelPadding": 2, "labelOverlap": false}},
    "y2": {"field": "hi"}
   }},
  {"mark": {"type": "line", "strokeWidth": 2, "clip": true},
   "encoding": {
    "y": {"field": "y", "type": "quantitative", "title": null, "scale": {"domain": [-0.8, 28], "nice": false, "zero": false}, "axis": {"values": [0, 4, 8, 12, 16, 20, 24, 28], "grid": true, "gridColor": "white", "gridWidth": 1.2, "domain": false, "tickColor": "#555555", "tickSize": 4, "labelFont": "DejaVu Sans", "labelFontSize": 14, "labelColor": "#555555", "labelPadding": 2, "labelOverlap": false}}
   }}
 ]
},
{
 "spacing": 0,
 "bounds": "flush",
 "vconcat": [
  {"width": 333, "height": 6, "view": {"fill": "white", "stroke": null}, "data": {"values": [{"a": 0}]}, "mark": {"type": "point", "opacity": 0}, "encoding": {}},
  {
   "width": 333, "height": 250,
   "data": {"name": "R"},
   "encoding": {
    "x": {"field": "x", "type": "quantitative", "title": null, "scale": {"domain": [0.25, 9.12], "nice": false, "zero": false}, "axis": {"values": [2, 4, 6, 8], "grid": true, "gridColor": "white", "gridWidth": 1.2, "domain": false, "tickColor": "#555555", "tickSize": 4, "labelFont": "DejaVu Sans", "labelFontSize": 14, "labelColor": "#555555", "labelPadding": 2, "labelOverlap": false}},
    "color": {"field": "s", "type": "nominal", "legend": null, "scale": {"domain": ["b", "o", "c", "g", "r", "p"], "range": ["#6495ED", "#B8860B", "#20B2AA", "#008000", "#B22222", "#8B008B"]}}
   },
   "layer": [
    {"mark": {"type": "area", "opacity": 0.12, "clip": true},
     "encoding": {
      "y": {"field": "lo", "type": "quantitative", "title": null, "scale": {"domain": [-2.5, 105.3], "nice": false, "zero": false}, "axis": {"values": [0, 15, 30, 45, 60, 75, 90, 105], "grid": true, "gridColor": "white", "gridWidth": 1.2, "domain": false, "tickColor": "#555555", "tickSize": 4, "labelFont": "DejaVu Sans", "labelFontSize": 14, "labelColor": "#555555", "labelPadding": 2, "labelOverlap": false}},
      "y2": {"field": "hi"}
     }},
    {"mark": {"type": "line", "strokeWidth": 2, "clip": true},
     "encoding": {
      "y": {"field": "y", "type": "quantitative", "title": null, "scale": {"domain": [-2.5, 105.3], "nice": false, "zero": false}, "axis": {"values": [0, 15, 30, 45, 60, 75, 90, 105], "grid": true, "gridColor": "white", "gridWidth": 1.2, "domain": false, "tickColor": "#555555", "tickSize": 4, "labelFont": "DejaVu Sans", "labelFontSize": 14, "labelColor": "#555555", "labelPadding": 2, "labelOverlap": false}}
     }}
   ]
  }
 ]
}
]
}
